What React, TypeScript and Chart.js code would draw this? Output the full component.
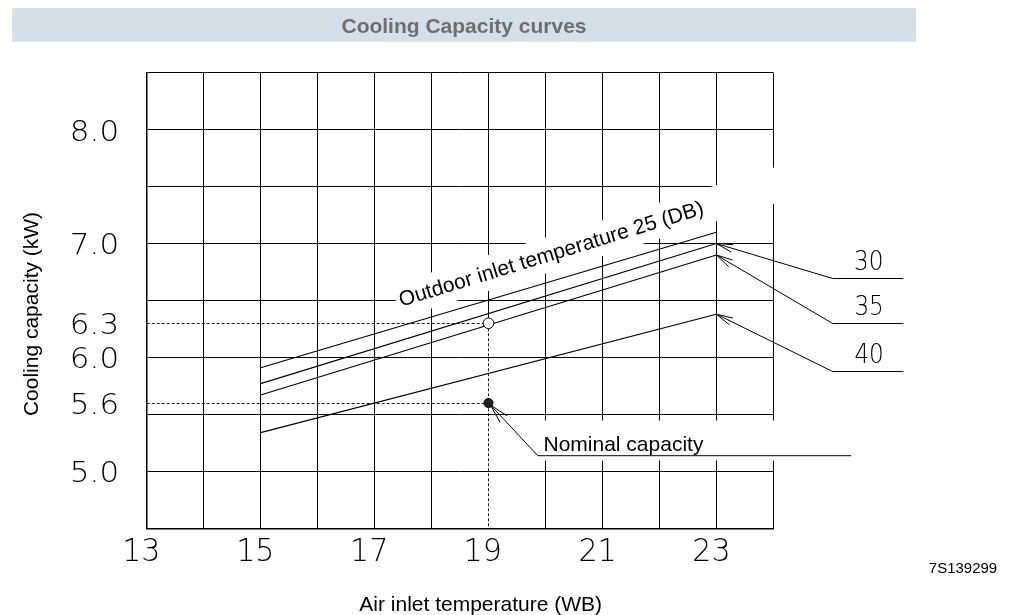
import React, { useEffect, useRef } from "react";
import { Chart, registerables } from "chart.js";

Chart.register(...registerables);

// ---------------- data ----------------
const chartTitle = "Cooling Capacity curves";
const yAxisTitle = "Cooling capacity (kW)";
const xAxisTitle = "Air inlet temperature (WB)";
const drawingCode = "7S139299";
const nominalLabel = "Nominal capacity";

const xRange = [13, 24];
const yRange = [4.5, 8.5];
const xTickLabels = [13, 15, 17, 19, 21, 23];
const yTickLabels = [5.0, 5.6, 6.0, 6.3, 7.0, 8.0];

const indoorWB = [15, 23];
const outdoorTemps = ["25", "30", "35", "40"];
const capacity25 = [5.91, 7.1];
const capacity30 = [5.77, 7.0];
const capacity35 = [5.67, 6.9];
const capacity40 = [5.34, 6.38];
const seriesValues = [capacity25, capacity30, capacity35, capacity40];

const ratedWB = [19];
const ratedCapacity = [6.3];
const nominalCapacity = [5.6];

// ---------------- drawing helpers ----------------
const W = 1025;
const H = 615;
const CAD = "'DejaVu Sans'";
const SANS = "'Liberation Sans', Arial, sans-serif";

function cadFont(ctx: CanvasRenderingContext2D, digitH: number) {
  ctx.font = `200 100px ${CAD}`;
  const asc = ctx.measureText("0").actualBoundingBoxAscent || 72.9;
  const size = (digitH * 100) / asc;
  ctx.font = `200 ${size}px ${CAD}`;
}

function inkWidth(ctx: CanvasRenderingContext2D, s: string) {
  const m = ctx.measureText(s);
  return m.actualBoundingBoxLeft + m.actualBoundingBoxRight;
}

function drawCad(
  ctx: CanvasRenderingContext2D,
  s: string,
  x: number,
  yBase: number,
  sx: number,
  align: "center" | "right"
) {
  const m = ctx.measureText(s);
  const left = -m.actualBoundingBoxLeft;
  const right = m.actualBoundingBoxRight;
  ctx.save();
  ctx.translate(x, yBase);
  ctx.scale(sx, 1);
  ctx.textAlign = "left";
  ctx.textBaseline = "alphabetic";
  const x0 = align === "center" ? -(left + right) / 2 : -right;
  ctx.fillText(s, x0, 0);
  ctx.restore();
}

function arrowHead(
  ctx: CanvasRenderingContext2D,
  tx: number,
  ty: number,
  fx: number,
  fy: number,
  len: number,
  halfDeg: number
) {
  const a = Math.atan2(fy - ty, fx - tx);
  const h = (halfDeg * Math.PI) / 180;
  ctx.beginPath();
  for (const s of [-1, 1]) {
    ctx.moveTo(tx, ty);
    ctx.lineTo(tx + len * Math.cos(a + s * h), ty + len * Math.sin(a + s * h));
  }
  ctx.stroke();
}

// annotation anchors (layout only)
const OUTDOOR_ANCHOR = { x: 17.47, y: 6.446, angle: -17 };
const RIGHT_LABEL_Y = [6.7, 6.3, 5.885];

const curvePlugin = {
  id: "curveDecor",
  beforeDraw(chart: any) {
    const ctx: CanvasRenderingContext2D = chart.ctx;
    ctx.save();
    ctx.fillStyle = "#ffffff";
    ctx.fillRect(0, 0, W, H);
    ctx.fillStyle = "#d5dfe7";
    ctx.fillRect(12, 8, 904, 33.7);
    ctx.fillStyle = "#6e6e6e";
    ctx.font = `bold 21px ${SANS}`;
    ctx.textAlign = "center";
    ctx.textBaseline = "alphabetic";
    ctx.fillText(chartTitle, 464, 33);
    ctx.restore();
  },
  beforeDatasetsDraw(chart: any) {
    const ctx: CanvasRenderingContext2D = chart.ctx;
    const ca = chart.chartArea;
    const xs = chart.scales.x;
    const ys = chart.scales.y;
    const px = Math.round(xs.getPixelForValue(ratedWB[0])) + 0.5;
    const pyR = ys.getPixelForValue(ratedCapacity[0]);
    const pyN = ys.getPixelForValue(nominalCapacity[0]);
    ctx.save();
    ctx.strokeStyle = "#000";
    ctx.lineWidth = 1;
    ctx.beginPath();
    ctx.moveTo(px, ca.top);
    ctx.lineTo(px, pyR - 5);
    ctx.stroke();
    ctx.setLineDash([3, 2]);
    ctx.lineWidth = 0.9;
    ctx.beginPath();
    ctx.moveTo(px, pyR + 5);
    ctx.lineTo(px, ca.bottom);
    const yr = Math.round(pyR) + 0.5;
    const yn = Math.round(pyN) + 0.5;
    ctx.moveTo(ca.left, yr);
    ctx.lineTo(px - 5, yr);
    ctx.moveTo(ca.left, yn);
    ctx.lineTo(px - 4, yn);
    ctx.stroke();
    ctx.setLineDash([]);

    // white masks behind the annotation texts
    ctx.fillStyle = "#ffffff";
    const ox = xs.getPixelForValue(OUTDOOR_ANCHOR.x);
    const oy = ys.getPixelForValue(OUTDOOR_ANCHOR.y);
    ctx.save();
    ctx.translate(ox, oy);
    ctx.rotate((OUTDOOR_ANCHOR.angle * Math.PI) / 180);
    ctx.fillRect(-3.5, -24, 401.5, 34.5);
    ctx.restore();
    const dx = xs.getPixelForValue(ratedWB[0]);
    ctx.fillRect(dx + 49, pyN + 17.5, 314, 40);
    ctx.restore();
  },
  afterDraw(chart: any) {
    const ctx: CanvasRenderingContext2D = chart.ctx;
    const ca = chart.chartArea;
    const xs = chart.scales.x;
    const ys = chart.scales.y;
    ctx.save();
    ctx.strokeStyle = "#000";
    ctx.fillStyle = "#000";
    ctx.lineWidth = 1;

    // leaders for 30 / 35 / 40
    cadFont(ctx, 20);
    const sxR = 26 / inkWidth(ctx, "30");
    for (let i = 1; i < seriesValues.length; i++) {
      const tx = xs.getPixelForValue(indoorWB[1]);
      const ty = ys.getPixelForValue(seriesValues[i][1]);
      const uy = Math.round(ys.getPixelForValue(RIGHT_LABEL_Y[i - 1])) + 0.5;
      const ux0 = ca.right + 59.4;
      const ux1 = ca.right + 130;
      ctx.beginPath();
      ctx.moveTo(tx, ty);
      ctx.lineTo(ux0, uy);
      ctx.lineTo(ux1, uy);
      ctx.stroke();
      arrowHead(ctx, tx, ty, ux0, uy, 17, 13);
      drawCad(ctx, outdoorTemps[i], ca.right + 95.4, uy - 8.8, sxR, "center");
    }

    // nominal capacity leader
    const dX = xs.getPixelForValue(ratedWB[0]);
    const dY = ys.getPixelForValue(nominalCapacity[0]);
    ctx.beginPath();
    ctx.moveTo(dX + 2, dY + 2);
    ctx.lineTo(dX + 49.3, dY + 52.7);
    ctx.lineTo(dX + 362.7, dY + 52.7);
    ctx.stroke();
    arrowHead(ctx, dX + 2, dY + 2, dX + 49.3, dY + 52.7, 20, 14);
    ctx.font = `21px ${SANS}`;
    ctx.textAlign = "left";
    ctx.textBaseline = "alphabetic";
    ctx.fillText(nominalLabel, dX + 55, dY + 48.4);

    // outdoor label
    ctx.save();
    ctx.translate(
      xs.getPixelForValue(OUTDOOR_ANCHOR.x),
      ys.getPixelForValue(OUTDOOR_ANCHOR.y)
    );
    ctx.rotate((OUTDOOR_ANCHOR.angle * Math.PI) / 180);
    ctx.fillText(`Outdoor inlet temperature ${outdoorTemps[0]} (DB)`, 0, 0);
    ctx.restore();

    // y tick labels
    cadFont(ctx, 21.7);
    const sxY = 44.5 / inkWidth(ctx, "8.0");
    for (const v of yTickLabels) {
      drawCad(ctx, v.toFixed(1), ca.left - 30.2, ys.getPixelForValue(v) + 10.85, sxY, "right");
    }
    // x tick labels
    cadFont(ctx, 24);
    const sxX = 32.3 / inkWidth(ctx, "13");
    for (const v of xTickLabels) {
      drawCad(ctx, String(v), xs.getPixelForValue(v) - 5.5, ca.bottom + 32.4, sxX, "center");
    }

    // axis titles
    ctx.font = `21px ${SANS}`;
    ctx.textAlign = "left";
    ctx.fillText(xAxisTitle, 359.3, 610.7);
    ctx.save();
    ctx.translate(38, 314);
    ctx.rotate(-Math.PI / 2);
    ctx.textAlign = "center";
    ctx.fillText(yAxisTitle, 0, 0);
    ctx.restore();

    ctx.font = `15px ${SANS}`;
    ctx.textAlign = "center";
    ctx.fillText(drawingCode, 963, 573);
    ctx.restore();
  },
};

export default function App() {
  const ref = useRef<HTMLCanvasElement>(null);
  useEffect(() => {
    document.body.style.margin = "0";
    const canvas = ref.current!;
    const lineSets = seriesValues.map((vals, i) => ({
      label: outdoorTemps[i],
      data: indoorWB.map((x, j) => ({ x, y: vals[j] })),
      showLine: true,
      borderColor: "#000",
      borderWidth: 1.1,
      pointRadius: 0,
      fill: false,
      tension: 0,
    }));
    const chart = new Chart(canvas, {
      type: "scatter",
      data: {
        datasets: [
          {
            label: "rated",
            data: ratedWB.map((x, i) => ({ x, y: ratedCapacity[i] })),
            pointRadius: 5.3,
            pointBackgroundColor: "#fff",
            pointBorderColor: "#000",
            pointBorderWidth: 1,
          },
          {
            label: "nominal",
            data: ratedWB.map((x, i) => ({ x, y: nominalCapacity[i] })),
            pointRadius: 4.5,
            pointBackgroundColor: "#222",
            pointBorderColor: "#000",
            pointBorderWidth: 1,
          },
          ...lineSets,
        ],
      },
      options: {
        responsive: false,
        maintainAspectRatio: false,
        animation: false,
        devicePixelRatio: 1,
        layout: {
          padding: { left: 146.7, top: 72.7, right: W - 773.3, bottom: H - 528.3 },
        },
        plugins: {
          legend: { display: false },
          tooltip: { enabled: false },
          title: { display: false },
        },
        scales: {
          x: {
            type: "linear",
            min: xRange[0],
            max: xRange[1],
            ticks: { display: false, stepSize: 1 },
            grid: {
              drawTicks: false,
              lineWidth: 1,
              color: (c: any) =>
                c.tick && c.tick.value === ratedWB[0] ? "rgba(0,0,0,0)" : "#000",
            },
            border: { display: true, color: "#000", width: 1.5 },
          },
          y: {
            type: "linear",
            min: yRange[0],
            max: yRange[1],
            ticks: { display: false, stepSize: 0.5 },
            grid: { drawTicks: false, lineWidth: 1, color: "#000" },
            border: { display: true, color: "#000", width: 1.5 },
          },
        },
      },
      plugins: [curvePlugin],
    });
    return () => chart.destroy();
  }, []);
  return <canvas ref={ref} width={W} height={H} style={{ display: "block", width: W, height: H }} />;
}
